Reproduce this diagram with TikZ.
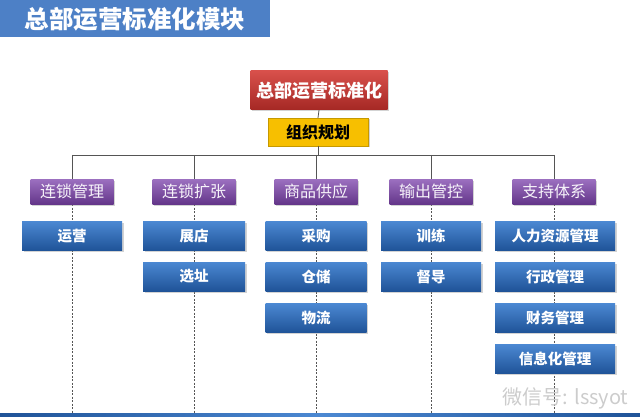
\documentclass[tikz,border=0pt]{standalone}
\usepackage{fontspec}
\newfontfamily\cjk{Noto Sans CJK SC}
\usetikzlibrary{shadows,backgrounds}
\definecolor{titleblue}{HTML}{4D80C6}
\definecolor{bluetop}{HTML}{4B88D2}
\definecolor{bluebot}{HTML}{1F5398}
\definecolor{purptop}{HTML}{9C70C0}
\definecolor{purpbot}{HTML}{64368A}
\definecolor{redtop}{HTML}{D8504B}
\definecolor{redbot}{HTML}{A52824}
\definecolor{planyellow}{HTML}{F7BF00}
\definecolor{linegray}{HTML}{555555}
\begin{document}
\begin{tikzpicture}[x=1pt, y=-1pt,
  boxshadow/.style={drop shadow={opacity=0.35, shadow xshift=1.5pt, shadow yshift=-1.5pt}},
  task/.style={rectangle, boxshadow, top color=bluetop, bottom color=bluebot, minimum height=29pt, inner sep=0pt, text=white, font=\cjk\bfseries\fontsize{14.5}{14.5}\selectfont},
  branch/.style={rectangle, boxshadow, top color=purptop, bottom color=purpbot, minimum width=83pt, minimum height=25pt, inner sep=0pt, text=white!92!purptop, font=\cjk\fontsize{16}{16}\selectfont},
  link/.style={draw=linegray, line width=0.8pt},
  trail/.style={draw=linegray, line width=0.7pt, dash pattern=on 2pt off 1.5pt}]
  \useasboundingbox (0,0) rectangle (640,417);
  \fill[titleblue] (0,0) rectangle (270,37);
  \node[text=white, font=\cjk\bfseries\fontsize{24.5}{24.5}\selectfont] (title) at (135,19) {总部运营标准化模块};
  \fill[left color=bluebot, right color=bluebot, middle color=bluetop] (0,413) rectangle (640,417);
  \node[text=black!20, font=\cjk\fontsize{20}{20}\selectfont, anchor=east] (mark) at (632,398) {微信号: lssyot};

  \node[rectangle, boxshadow, top color=redtop, bottom color=redbot, minimum width=137pt, minimum height=39pt, inner sep=0pt, text=white, font=\cjk\bfseries\fontsize{18}{18}\selectfont] (hq) at (319,90.5) {总部运营标准化};
  \node[rectangle, boxshadow, fill=planyellow, draw=planyellow!80!black, minimum width=100pt, minimum height=28pt, inner sep=0pt, font=\cjk\bfseries\fontsize{16}{16}\selectfont] (plan) at (318,132) {组织规划};

  \node[branch] (chain) at (72,191.5) {连锁管理};
  \node[branch] (expand) at (194,191.5) {连锁扩张};
  \node[branch] (supply) at (316,191.5) {商品供应};
  \node[branch] (output) at (431,191.5) {输出管控};
  \node[branch] (support) at (554,191.5) {支持体系};

  \node[task, minimum width=100pt] (operate) at (72,236) {运营};
  \node[task, minimum width=102pt] (open) at (194,236) {展店};
  \node[task, minimum width=102pt] (site) at (194,276.5) {选址};
  \node[task, minimum width=101pt] (buy) at (316,236) {采购};
  \node[task, minimum width=101pt] (store) at (316,276.5) {仓储};
  \node[task, minimum width=101pt] (logistic) at (316,318) {物流};
  \node[task, minimum width=100pt] (train) at (431,236) {训练};
  \node[task, minimum width=100pt] (guide) at (431,276.5) {督导};
  \node[task, minimum width=120pt] (hr) at (555,236) {人力资源管理};
  \node[task, minimum width=120pt] (admin) at (555,276.5) {行政管理};
  \node[task, minimum width=120pt] (finance) at (555,318) {财务管理};
  \node[task, minimum width=120pt] (info) at (555,359) {信息化管理};

  \coordinate (bus) at (318,155);
  \coordinate (busl) at (72,155);
  \coordinate (busr) at (554,155);
  \draw[link] (hq.south) -- (plan.north);
  \draw[link] (plan.south) -- (bus);
  \draw[link] (busl) -- (busr);
  \draw[link] (busl) -- (chain.north);
  \draw[link] (expand.north |- bus) -- (expand.north);
  \draw[link] (supply.north |- bus) -- (supply.north);
  \draw[link] (output.north |- bus) -- (output.north);
  \draw[link] (busr) -- (support.north);
  \begin{scope}[on background layer]
    \draw[trail] (chain.south) -- (chain.south |- 0,413);
    \draw[trail] (expand.south) -- (expand.south |- 0,413);
    \draw[trail] (supply.south) -- (supply.south |- 0,413);
    \draw[trail] (output.south) -- (output.south |- 0,413);
    \draw[trail] (support.south) -- (support.south |- 0,413);
  \end{scope}
\end{tikzpicture}
\end{document}
